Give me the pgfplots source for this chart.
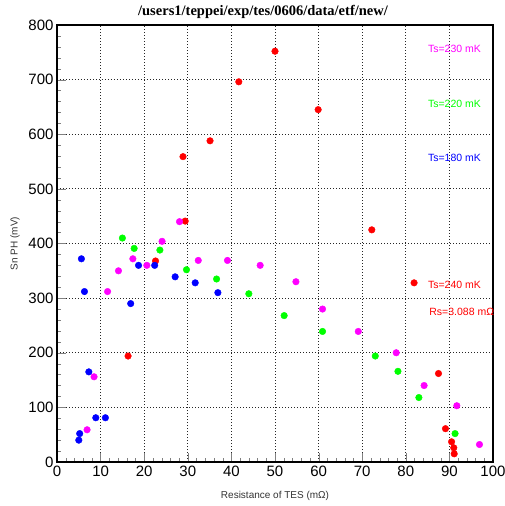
\documentclass[border=0pt]{standalone}
\usepackage{pgfplots}
\pgfplotsset{compat=1.18}
\usepackage{fontspec}
\setmainfont{Liberation Serif}
\setsansfont{Liberation Sans}

\definecolor{rred}{RGB}{255,0,0}
\definecolor{rmag}{RGB}{255,0,255}
\definecolor{rgreen}{RGB}{0,255,0}
\definecolor{rblue}{RGB}{0,0,255}

\begin{document}
\begin{tikzpicture}
\useasboundingbox (-57pt,-44pt) rectangle (447pt,462pt);
\clip (-57pt,-44pt) rectangle (447pt,462pt);
\begin{axis}[
    scale only axis,
    width=436pt, height=437pt,
    xmin=0, xmax=100,
    ymin=0, ymax=800,
    xtick={0,10,...,100},
    ytick={0,100,...,800},
    minor x tick num=4,
    minor y tick num=4,
    tick pos=left,
    tick align=inside,
    major tick length=9pt,
    minor tick length=4.5pt,
    axis line style={line width=1.2pt},
    grid=major,
    major grid style={dash pattern=on 1pt off 2pt, black!85, line width=0.8pt},
    ticklabel style={font=\sffamily\fontsize{15}{15}\selectfont},
    /pgf/number format/assume math mode=true,
    xlabel={Resistance of TES (mΩ)},
    ylabel={Sn PH (mV)},
    label style={font=\sffamily\fontsize{10}{10}\selectfont, text=black!80},
    xlabel style={at={(axis description cs:0.5,-0.078)}, anchor=center},
    ylabel style={at={(axis description cs:-0.096,0.5)}, anchor=center},
]

% Ts = 240 mK
\addplot[only marks, mark=*, mark size=3.3pt, rred] coordinates {
    (50.0,752) (41.7,696) (59.9,645) (35.1,588) (28.9,559) (29.4,441)
    (72.2,425) (22.6,368) (16.3,194) (81.9,328) (87.5,162) (89.1,61)
    (90.5,37) (91.0,26) (91.1,15)
};

% Ts = 230 mK
\addplot[only marks, mark=*, mark size=3.3pt, rmag] coordinates {
    (28.1,440) (24.1,404) (17.4,372) (20.6,360) (14.1,350) (11.6,312)
    (32.4,369) (39.1,369) (46.6,360) (8.5,156) (6.9,59) (54.8,330)
    (60.9,280) (69.1,239) (77.8,200) (84.2,140) (91.7,103) (96.9,32)
};

% Ts = 220 mK
\addplot[only marks, mark=*, mark size=3.3pt, rgreen] coordinates {
    (15.0,410) (17.7,391) (23.6,388) (29.7,352) (36.6,335) (44.0,308)
    (52.1,268) (60.9,239) (73.0,194) (78.2,166) (83.0,118) (91.3,52)
};

% Ts = 180 mK
\addplot[only marks, mark=*, mark size=3.3pt, rblue] coordinates {
    (5.6,372) (6.3,312) (18.7,360) (22.4,360) (27.1,339) (31.7,328)
    (36.9,310) (16.9,290) (7.3,165) (8.9,81) (11.1,81) (5.2,52) (5.0,40)
};

\node[anchor=west, text=rmag, font=\sffamily\fontsize{10.5}{10.5}\selectfont] at (axis cs:84.3,756) {Ts=230 mK};
\node[anchor=west, text=rgreen, font=\sffamily\fontsize{10.5}{10.5}\selectfont] at (axis cs:84.3,656) {Ts=220 mK};
\node[anchor=west, text=rblue, font=\sffamily\fontsize{10.5}{10.5}\selectfont] at (axis cs:84.3,557) {Ts=180 mK};
\node[anchor=west, text=rred, font=\sffamily\fontsize{10.5}{10.5}\selectfont] at (axis cs:84.3,325) {Ts=240 mK};
\node[anchor=west, text=rred, font=\sffamily\fontsize{10.5}{10.5}\selectfont] at (axis cs:84.6,275) {Rs=3.088 mΩ};
\end{axis}
\node[font=\rmfamily\bfseries\fontsize{14.5}{14.5}\selectfont] at (206pt,450pt) {/users1/teppei/exp/tes/0606/data/etf/new/};
\end{tikzpicture}
\end{document}
